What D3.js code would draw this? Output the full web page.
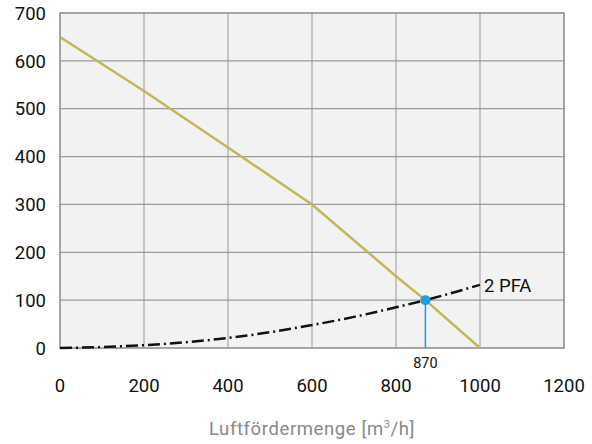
<!DOCTYPE html>
<html>
<head>
<meta charset="utf-8">
<script src="https://cdn.jsdelivr.net/npm/d3@7"></script>
<style>
  body { margin: 0; background: #fff; }
  text { font-family: Roboto, "Liberation Sans", sans-serif; }
</style>
</head>
<body>
<script>
const margin = {top: 13, bottom: 96, left: 60, right: 28};
const width = 592 - margin.left - margin.right;
const height = 444 - margin.top - margin.bottom;

// data
const xTicks = [0, 200, 400, 600, 800, 1000, 1200];
const yTicks = [0, 100, 200, 300, 400, 500, 600, 700];

const fanFlow = [0, 200, 400, 600, 800, 870, 1000];
const fanPressure = [650, 537, 419, 300, 150, 100, 0];

const pfaFlow = [0, 100, 200, 300, 400, 500, 600, 700, 800, 870, 1000];
const pfaPressure = [0, 2, 6, 12, 21, 33, 48, 65, 85, 100, 132];

const opFlow = 870;
const opPressure = 100;

const svg = d3.select('body').append('svg')
        .attr('width', 592)
        .attr('height', 444);

const g = svg.append('g')
        .attr('transform', `translate(${margin.left},${margin.top})`);

const x = d3.scaleLinear().domain([0, 1200]).range([0, width]);
const y = d3.scaleLinear().domain([0, 700]).range([height, 0]);

// plot background
g.append('rect')
    .attr('width', width)
    .attr('height', height)
    .attr('fill', '#f2f2f2');

// grid
g.selectAll('.vgrid').data(xTicks.slice(1, -1)).join('line')
    .attr('x1', d => x(d)).attr('x2', d => x(d))
    .attr('y1', 0).attr('y2', height)
    .attr('stroke', '#c6c6c6').attr('stroke-width', 2);

g.selectAll('.hgrid').data(yTicks.slice(1, -1)).join('line')
    .attr('x1', 0).attr('x2', width)
    .attr('y1', d => y(d)).attr('y2', d => y(d))
    .attr('stroke', '#9a9a9a').attr('stroke-width', 1.3);

// frame
g.append('rect')
    .attr('width', width)
    .attr('height', height)
    .attr('fill', 'none')
    .attr('stroke', '#8a8a8a')
    .attr('stroke-width', 1.5);

// axes labels
g.selectAll('.ylab').data(yTicks).join('text')
    .attr('x', -14)
    .attr('y', d => y(d))
    .attr('dy', '0.36em')
    .attr('text-anchor', 'end')
    .attr('font-size', 18.5)
    .attr('fill', '#111')
    .text(d => d);

g.selectAll('.xlab').data(xTicks).join('text')
    .attr('x', d => x(d))
    .attr('y', height + 44)
    .attr('text-anchor', 'middle')
    .attr('font-size', 18.5)
    .attr('fill', '#111')
    .text(d => d);

const line = d3.line()
    .x(d => x(d[0]))
    .y(d => y(d[1]))
    .curve(d3.curveMonotoneX);

// fan curve
g.append('path')
    .datum(d3.zip(fanFlow, fanPressure))
    .attr('d', d3.line().x(d => x(d[0])).y(d => y(d[1])))
    .attr('fill', 'none')
    .attr('stroke', '#c3b65a')
    .attr('stroke-width', 2.5);

// system curve
g.append('path')
    .datum(d3.zip(pfaFlow, pfaPressure))
    .attr('d', line)
    .attr('fill', 'none')
    .attr('stroke', '#111')
    .attr('stroke-width', 2.5)
    .attr('stroke-dasharray', '12,4,2,4');

g.append('text')
    .attr('x', x(1000) + 4)
    .attr('y', y(132) + 7)
    .attr('font-size', 18.5)
    .attr('fill', '#111')
    .text('2 PFA');

// operating point
g.append('line')
    .attr('x1', x(opFlow)).attr('x2', x(opFlow))
    .attr('y1', y(opPressure)).attr('y2', y(0))
    .attr('stroke', '#1a9fe0')
    .attr('stroke-width', 1.5);

g.append('circle')
    .attr('cx', x(opFlow))
    .attr('cy', y(opPressure))
    .attr('r', 5)
    .attr('fill', '#1a9fe0');

g.append('text')
    .attr('x', x(opFlow))
    .attr('y', height + 20)
    .attr('text-anchor', 'middle')
    .attr('font-size', 14.5)
    .attr('fill', '#111')
    .text(opFlow);

// axis title
const title = svg.append('text')
    .attr('x', margin.left + width / 2)
    .attr('y', 435)
    .attr('text-anchor', 'middle')
    .attr('font-size', 18.5)
    .attr('letter-spacing', 0.6)
    .attr('fill', '#888');
title.append('tspan').text('Luftfördermenge [m');
title.append('tspan').attr('font-size', 11).attr('dy', -7).text('3');
title.append('tspan').attr('dy', 7).text('/h]');
</script>
</body>
</html>
